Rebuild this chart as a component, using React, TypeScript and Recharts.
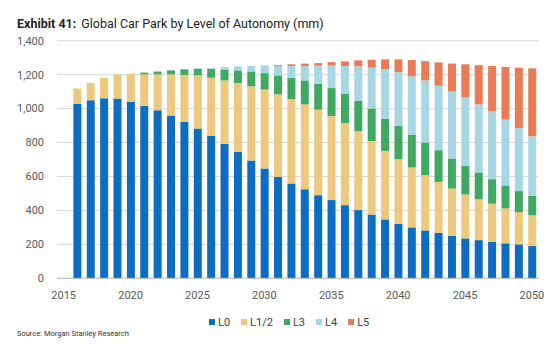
import React from 'react';
import { BarChart, Bar, XAxis, YAxis, CartesianGrid } from 'recharts';

const years = [2015, 2016, 2017, 2018, 2019, 2020, 2021, 2022, 2023, 2024, 2025, 2026, 2027, 2028, 2029, 2030, 2031, 2032, 2033, 2034, 2035, 2036, 2037, 2038, 2039, 2040, 2041, 2042, 2043, 2044, 2045, 2046, 2047, 2048, 2049, 2050];
const l0 = [null, 1029, 1049, 1061, 1059, 1039, 1015, 990, 959, 921, 882, 839, 792, 745, 694, 647, 598, 559, 524, 490, 461, 431, 402, 376, 347, 321, 300, 282, 268, 251, 235, 225, 214, 206, 200, 190];
const l12 = [null, 89, 102, 119, 141, 167, 187, 212, 243, 277, 314, 343, 374, 406, 437, 465, 486, 497, 501, 504, 495, 484, 464, 433, 404, 381, 353, 326, 300, 278, 259, 241, 225, 206, 190, 181];
const l3 = [null, 0, 0, 0, 0, 0, 10, 16, 23, 33, 39, 53, 65, 74, 88, 97, 112, 126, 141, 153, 165, 173, 179, 191, 190, 196, 194, 192, 187, 177, 168, 158, 145, 135, 124, 115];
const l4 = [null, 0, 0, 0, 0, 0, 0, 0, 0, 0, 2, 4, 14, 24, 32, 42, 55, 69, 85, 106, 132, 163, 204, 241, 290, 317, 343, 366, 380, 396, 403, 401, 400, 388, 372, 351];
const l5 = [null, 0, 0, 0, 0, 0, 0, 0, 0, 0, 0, 0, 0, 0, 0, 2, 5, 10, 14, 15, 21, 27, 35, 47, 59, 75, 96, 114, 137, 163, 196, 231, 267, 310, 355, 400];

const seriesNames = ['L0', 'L1/2', 'L3', 'L4', 'L5'];
const seriesKeys = ['l0', 'l12', 'l3', 'l4', 'l5'];
const seriesColors = ['#0D6DC3', '#EDC97E', '#3FA962', '#A8D7E4', '#E97B57'];
const yTicks = [0, 200, 400, 600, 800, 1000, 1200, 1400];

const data = years.map((year, i) => ({
  year,
  l0: l0[i],
  l12: l12[i],
  l3: l3[i],
  l4: l4[i],
  l5: l5[i],
}));

const FONT = 'Roboto, "Open Sans", sans-serif';

export default function App() {
  return (
    <div style={{ position: 'absolute', left: 0, top: 0, width: 553, height: 350, background: '#fff', fontFamily: FONT }}>
      <div style={{ position: 'absolute', left: 17, top: 16, fontSize: 12.5, color: '#222', whiteSpace: 'nowrap', lineHeight: '16px' }}>
        <span style={{ fontWeight: 700 }}>Exhibit 41:</span>
        <span style={{ marginLeft: 5 }}>Global Car Park by Level of Autonomy (mm)</span>
      </div>
      <BarChart
        width={553}
        height={350}
        data={data}
        margin={{ top: 40.7, right: 14.4, bottom: 41.7, left: 0 }}
      >
        <CartesianGrid vertical={false} stroke="#D9D9D9" />
        <XAxis
          dataKey="year"
          interval={4}
          height={30}
          tickLine={false}
          axisLine={{ stroke: '#BFBFBF' }}
          tick={{ fill: '#595959', fontSize: 11, fontFamily: FONT }}
          tickMargin={7}
        />
        <YAxis
          width={57}
          domain={[0, 1400]}
          ticks={yTicks}
          axisLine={false}
          tickLine={false}
          tickMargin={7}
          tick={{ fill: '#595959', fontSize: 11, fontFamily: FONT }}
          tickFormatter={(v: number) => v.toLocaleString('en-US')}
        />
        {seriesKeys.map((k, i) => (
          <Bar key={k} dataKey={k} name={seriesNames[i]} stackId="a" fill={seriesColors[i]} barSize={8} isAnimationActive={false} />
        ))}
      </BarChart>
      <div style={{ position: 'absolute', left: 209, top: 315, height: 14, display: 'flex', alignItems: 'center', fontSize: 11, color: '#404040', whiteSpace: 'nowrap' }}>
        {seriesNames.map((n, i) => (
          <div key={n} style={{ display: 'flex', alignItems: 'center', marginRight: 11 }}>
            <div style={{ width: 6, height: 6, background: seriesColors[i], marginRight: 3 }} />
            <span>{n}</span>
          </div>
        ))}
      </div>
      <div style={{ position: 'absolute', left: 17, top: 329, fontSize: 7.5, color: '#333', whiteSpace: 'nowrap', lineHeight: '10px' }}>
        Source: Morgan Stanley Research
      </div>
    </div>
  );
}
